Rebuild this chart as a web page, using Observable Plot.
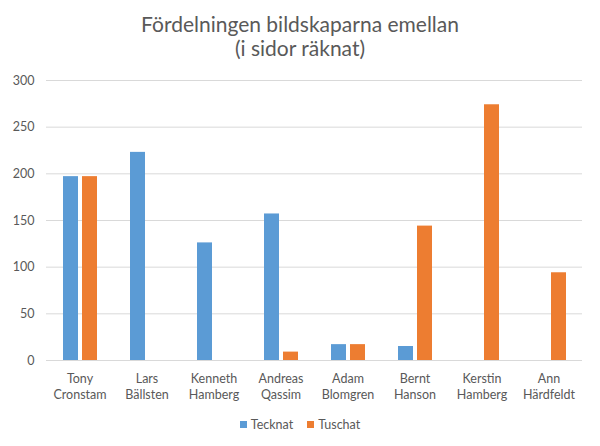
<!DOCTYPE html>
<html>
<head>
<meta charset="utf-8">
<script src="https://cdn.jsdelivr.net/npm/d3@7"></script>
<script src="https://cdn.jsdelivr.net/npm/@observablehq/plot@0.6"></script>
<style>
  html, body { margin: 0; padding: 0; background: #fff; }
  #wrap { width: 600px; height: 446px; overflow: hidden; font-family: Lato, "Noto Sans", sans-serif; color: #595959; }
  #title { height: 62px; text-align: center; font-size: 21px; line-height: 24px; padding-top: 12px; box-sizing: border-box; }
  #legend { height: 39px; display: flex; justify-content: center; align-items: center; gap: 14px; font-size: 12.5px; padding-bottom: 4px; box-sizing: border-box; }
  .item { display: flex; align-items: center; gap: 4px; }
  .sw { width: 7px; height: 7px; display: inline-block; }
</style>
</head>
<body>
<div id="wrap">
  <div id="title">Fördelningen bildskaparna emellan<br>(i sidor räknat)</div>
  <div id="chart"></div>
  <div id="legend"></div>
</div>
<script>
const categories = ["Tony Cronstam", "Lars Bällsten", "Kenneth Hamberg", "Andreas Qassim", "Adam Blomgren", "Bernt Hanson", "Kerstin Hamberg", "Ann Härdfeldt"];
const series = ["Tecknat", "Tuschat"];
const tecknat = [197, 223, 126, 157, 17, 15, 0, 0];
const tuschat = [197, 0, 0, 9, 17, 144, 274, 94];
const yTicks = [0, 50, 100, 150, 200, 250, 300];
const colors = ["#5B9BD5", "#ED7D31"];

const data = categories.flatMap((c, i) => [
  {category: c, series: series[0], value: tecknat[i]},
  {category: c, series: series[1], value: tuschat[i]}
]);

const chart = Plot.plot({
  width: 600,
  height: 345,
  marginTop: 18,
  marginBottom: 47,
  marginLeft: 42,
  marginRight: 15,
  style: {fontFamily: "Lato, 'Noto Sans', sans-serif", fontSize: "12.5px", color: "#595959", background: "#fff"},
  fx: {domain: categories, padding: 0, label: null},
  x: {domain: series, paddingInner: 0.225, paddingOuter: 0.8125, axis: null},
  y: {domain: [0, 300], label: null},
  color: {domain: series, range: colors},
  marks: [
    Plot.gridY(yTicks, {stroke: "#d9d9d9", strokeOpacity: 1}),
    Plot.axisY(yTicks, {tickSize: 0, tickPadding: 12, label: null, fill: "#595959"}),
    Plot.axisFx({anchor: "bottom", tickSize: 0, tickPadding: 11, label: null, lineHeight: 1.3, fill: "#595959", tickFormat: d => d.replace(" ", "\n")}),
    Plot.barY(data, {fx: "category", x: "series", y: "value", fill: "series"})
  ]
});
document.getElementById("chart").appendChild(chart);

const legend = document.getElementById("legend");
series.forEach((s, i) => {
  const it = document.createElement("div");
  it.className = "item";
  const sw = document.createElement("span");
  sw.className = "sw";
  sw.style.background = colors[i];
  const t = document.createElement("span");
  t.textContent = s;
  it.appendChild(sw);
  it.appendChild(t);
  legend.appendChild(it);
});
</script>
</body>
</html>
